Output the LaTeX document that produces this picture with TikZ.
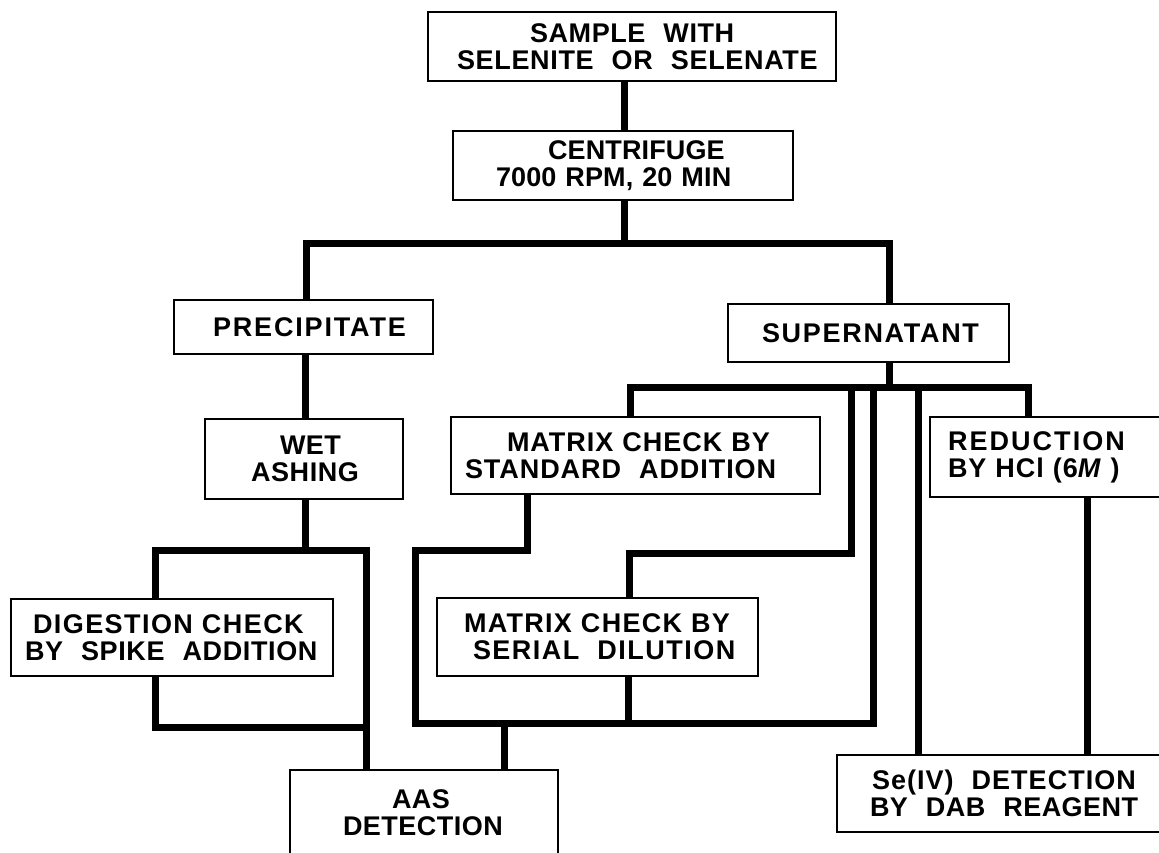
\documentclass[tikz,border=0pt]{standalone}
\usepackage{fontspec}
\setmainfont{Liberation Sans}
\newcommand{\lsp}[2]{{\addfontfeatures{LetterSpace=#1}#2}}
\tikzset{
  box/.style={draw, line width=2pt, fill=white, inner xsep=0pt, inner ysep=0pt,
    align=left, font=\fontsize{27}{27}\selectfont\bfseries},
  wire/.style={line width=7pt, line join=miter}
}
\begin{document}
\begin{tikzpicture}[x=1pt,y=-1pt]
\useasboundingbox (0,0) rectangle (1159,853);
\clip (0,0) rectangle (1159,853);

\node[box, text width=408pt, minimum height=69pt] (sample) at (632,46.5)
  {\hspace*{102pt}\lsp{2.2}{SAMPLE\ \ WITH}\\\hspace*{29pt}\lsp{2.5}{SELENITE\ \ OR\ \ SELENATE}};
\node[box, text width=340pt, minimum height=69pt] (centrifuge) at (623,165.5)
  {\hspace*{95pt}\lsp{0.5}{CENTRIFUGE}\\\hspace*{43pt}\lsp{0.5}{7000 RPM, 20 MIN}};
\node[box, text width=259pt, minimum height=54pt] (precipitate) at (303.5,327)
  {\hspace*{39pt}\lsp{6.8}{PRECIPITATE}};
\node[box, text width=198pt, minimum height=80pt] (wet) at (304,459)
  {\hspace*{75pt}\lsp{1.5}{WET}\\\hspace*{46pt}\lsp{2.2}{ASHING}};
\node[box, text width=281pt, minimum height=58pt] (supernatant) at (868.5,333)
  {\hspace*{34pt}\lsp{6.3}{SUPERNATANT}};
\node[box, text width=369pt, minimum height=77pt] (mstd) at (635.5,455.5)
  {\hspace*{56pt}\lsp{3.7}{MATRIX CHECK BY}\\\hspace*{14pt}\lsp{3.5}{STANDARD\ \ ADDITION}};
\node[box, text width=322pt, minimum height=77pt] (digestion) at (172,637.5)
  {\hspace*{22pt}\lsp{5.3}{DIGESTION CHECK}\\\hspace*{14pt}\lsp{2.3}{BY\ \ SPIKE\ \ ADDITION}};
\node[box, text width=250pt, minimum height=80pt] (reduction) at (1055,457)
  {\hspace*{18pt}\lsp{7.6}{REDUCTION}\\\hspace*{18pt}\lsp{3.5}{BY HCl (6\textit{M}\ )}};
\node[box, text width=321pt, minimum height=78pt] (serial) at (597.5,637)
  {\hspace*{27pt}\lsp{4.8}{MATRIX CHECK BY}\\\hspace*{36pt}\lsp{5.5}{SERIAL\ \ DILUTION}};
\node[box, text width=268pt, minimum height=86pt] (aas) at (424,813)
  {\hspace*{102pt}\lsp{1.5}{AAS}\\\hspace*{53pt}\lsp{1.8}{DETECTION}};
\node[box, text width=343pt, minimum height=77pt] (seiv) at (1008.5,793.5)
  {\hspace*{35pt}\lsp{3.8}{Se(IV)\ \ DETECTION}\\\hspace*{33pt}\lsp{1.7}{BY\ \ DAB\ \ REAGENT}};

\draw[wire] (sample.south -| 624,0) -- (centrifuge.north -| 624,0);
\draw[wire] (centrifuge.south -| 624,0) -- (624,243);
\draw[wire] (precipitate.north -| 306,0) -- (306,243) -- (889,243) -- (supernatant.north -| 889,0);
\draw[wire] (precipitate.south -| 305,0) -- (wet.north -| 305,0);
\draw[wire] (wet.south -| 305,0) -- (305,550);
\draw[wire] (digestion.north -| 155,0) -- (155,550) -- (366,550) -- (aas.north -| 366,0);
\draw[wire] (digestion.south -| 155,0) -- (155,727) -- (366,727);
\draw[wire] (supernatant.south -| 889,0) -- (889,387);
\draw[wire] (mstd.north -| 630,0) -- (630,387) -- (1028,387) -- (reduction.north -| 1028,0);
\draw[wire] (851,387) -- (851,553) -- (629,553) -- (serial.north -| 629,0);
\draw[wire] (mstd.south -| 527,0) -- (527,550) -- (415,550) -- (415,723) -- (873,723) -- (873,387);
\draw[wire] (serial.south -| 628,0) -- (628,723);
\draw[wire] (504,723) -- (aas.north -| 504,0);
\draw[wire] (918,387) -- (seiv.north -| 918,0);
\draw[wire] (reduction.south -| 1087,0) -- (seiv.north -| 1087,0);
\end{tikzpicture}
\end{document}
